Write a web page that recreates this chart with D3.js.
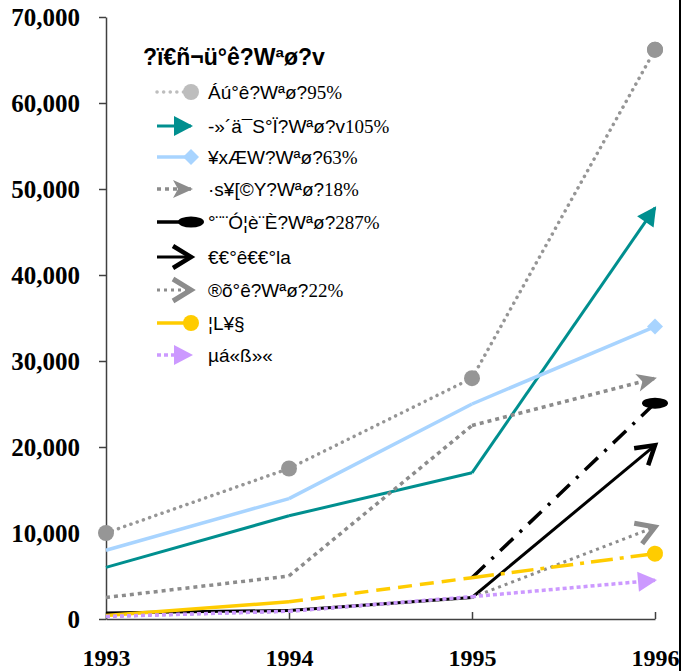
<!DOCTYPE html>
<html>
<head>
<meta charset="utf-8">
<script src="https://cdn.jsdelivr.net/npm/d3@7"></script>
<style>
  body { margin: 0; background: #fff; }
  svg { display: block; }
  .axis text { font-family: "Liberation Serif", "Times New Roman", serif; font-weight: bold; fill: #000; }
  .axis path, .axis line { stroke: #404040; stroke-width: 1.5; }
  .leg-title { font-family: "Liberation Sans", Arial, sans-serif; font-weight: bold; font-size: 23px; }
  .leg-text { font-family: "Liberation Sans", Arial, sans-serif; font-size: 19px; }
  .leg-num { font-family: "Liberation Serif", "Times New Roman", serif; }
</style>
</head>
<body>
<svg id="chart"></svg>
<script>
// categories + tick labels
const years = ['1993', '1994', '1995', '1996'];
const yTicks = [0, 10000, 20000, 30000, 40000, 50000, 60000, 70000];

const legendTitle = '?ï€ñ¬ü°ê?Wªø?v';
const names = [
  'Áú°ê?Wªø?95%',
  '-»´ä¯S°Ï?Wªø?v105%',
  '¥xÆW?Wªø?63%',
  '·s¥[©Y?Wªø?18%',
  '°¨¨Ó¦è¨È?Wªø?287%',
  '€€°ê€€°la',
  '®õ°ê?Wªø?22%',
  '¦L¥§',
  'µá«ß»«'
];

// series values (null = not drawn)
const s1 = [10000, 17500, 28000, 66200];
const s2 = [6000, 12000, 17000, 47800];
const s3 = [8000, 14000, 25000, 34000];
const s4 = [2500, 5000, 22500, 28000];
const s5 = [null, null, 4800, 25100];
const s6 = [700, 1000, 2500, 20200];
const s7 = [300, 900, 2500, 10700];
const s8 = [400, 2000, 4800, 7600];
const s9 = [300, 900, 2600, 4500];

const seriesVals = [s1, s2, s3, s4, s5, s6, s7, s8, s9];

// style per series: colour, dash for each segment, end marker
const styles = [
  { color: '#969696', leg: '#bdbdbd', dash: ['0.1,6.5'], cap: 'round', w: 3.5, marker: 'circle' },
  { color: '#008f8f', dash: [null], w: 3, marker: 'tri' },
  { color: '#a8d4ff', dash: [null], w: 3.5, marker: 'diamond' },
  { color: '#8c8c8c', dash: ['4,4'], w: 3.5, marker: 'stealth' },
  { color: '#000000', dash: ['18,9,3,9'], legDash: 'none', w: 3.5, marker: 'oval' },
  { color: '#000000', dash: [null], w: 3, marker: 'open' },
  { color: '#8c8c8c', dash: ['3,4'], w: 3, marker: 'open2' },
  { color: '#ffcc00', dash: [null, '14,8', '22,7,4,7'], w: 3.5, marker: 'dot' },
  { color: '#cc99ff', dash: ['4,3'], w: 3.5, marker: 'tri2' }
];

const W = 687, H = 671;
const svg = d3.select('#chart').attr('width', W).attr('height', H);

const x = d3.scalePoint().domain(years).range([106, 655]);
const y = d3.scaleLinear().domain([0, 70000]).range([619, 17]);

// markers
const defs = svg.append('defs');
function mk(id, orient, draw) {
  const m = defs.append('marker')
    .attr('id', id)
    .attr('markerUnits', 'userSpaceOnUse')
    .attr('markerWidth', 1).attr('markerHeight', 1)
    .attr('refX', 0).attr('refY', 0)
    .attr('orient', orient)
    .style('overflow', 'visible');
  draw(m);
}
mk('m-circle', 'auto', m => m.append('circle').attr('r', 8).attr('fill', styles[0].color));
mk('m-circle-leg', 'auto', m => m.append('circle').attr('r', 8).attr('fill', styles[0].leg));
mk('m-tri', 'auto', m => m.append('path').attr('d', 'M2,0 L-17,-10 L-17,10 Z').attr('fill', styles[1].color));
mk('m-diamond', '0', m => m.append('path').attr('d', 'M0,-8 L8,0 L0,8 L-8,0 Z').attr('fill', styles[2].color));
mk('m-stealth', 'auto', m => m.append('path').attr('d', 'M2,0 L-18,-9 L-13,0 L-18,9 Z').attr('fill', styles[3].color));
mk('m-oval', '0', m => m.append('ellipse').attr('rx', 13).attr('ry', 5.5).attr('fill', '#000'));
mk('m-open', 'auto', m => m.append('path').attr('d', 'M-18,-11 L0,0 L-18,11')
  .attr('fill', 'none').attr('stroke', '#000').attr('stroke-width', 4.5));
mk('m-open2', 'auto', m => m.append('path').attr('d', 'M-18,-11 L0,0 L-18,11')
  .attr('fill', 'none').attr('stroke', '#8c8c8c').attr('stroke-width', 5));
mk('m-dot', 'auto', m => m.append('circle').attr('r', 8).attr('fill', styles[7].color));
mk('m-tri2', 'auto', m => m.append('path').attr('d', 'M2,0 L-17,-10 L-17,10 Z').attr('fill', styles[8].color));

const clip = defs.append('clipPath').attr('id', 'frame');
clip.append('rect').attr('x', 0).attr('y', 0).attr('width', 679).attr('height', H);

const chart = svg.append('g').attr('clip-path', 'url(#frame)');

// axes
const yAxis = d3.axisLeft(y)
  .tickValues(yTicks)
  .tickSize(7)
  .tickSizeOuter(0)
  .tickPadding(19)
  .tickFormat(d3.format(','));
chart.append('g')
  .attr('class', 'axis y-axis')
  .attr('transform', `translate(${x('1993')},0)`)
  .call(yAxis)
  .selectAll('text').style('font-size', '25px');

const xAxis = d3.axisBottom(x)
  .tickSizeInner(-7)
  .tickSizeOuter(0)
  .tickPadding(30);
chart.append('g')
  .attr('class', 'axis x-axis')
  .attr('transform', `translate(0,${y(0)})`)
  .call(xAxis)
  .selectAll('text').style('font-size', '24px');

// series lines, drawn segment by segment so each segment can carry its own dash
const line = d3.line()
  .defined(d => d.v != null)
  .x(d => x(d.year))
  .y(d => y(d.v));

const lines = chart.append('g');
seriesVals.forEach((vals, i) => {
  const st = styles[i];
  const pts = years.map((yr, j) => ({ year: yr, v: vals[j] }));
  const g = lines.append('g');
  for (let j = 0; j < pts.length - 1; j++) {
    if (pts[j].v == null || pts[j + 1].v == null) continue;
    const dash = st.dash[Math.min(j, st.dash.length - 1)];
    const p = g.append('path')
      .datum([pts[j], pts[j + 1]])
      .attr('d', line)
      .attr('fill', 'none')
      .attr('stroke', st.color)
      .attr('stroke-width', st.w)
      .attr('stroke-linecap', st.cap || 'butt');
    if (dash) p.attr('stroke-dasharray', dash);
    if (j === pts.length - 2) p.attr('marker-end', `url(#m-${st.marker})`);
  }
  // series 1 has a circle on every point
  if (st.marker === 'circle') {
    g.selectAll('circle.pt')
      .data(pts)
      .join('circle')
      .attr('class', 'pt')
      .attr('cx', d => x(d.year))
      .attr('cy', d => y(d.v))
      .attr('r', 8)
      .attr('fill', st.color);
  }
});

// legend
const legend = svg.append('g');
legend.append('text')
  .attr('class', 'leg-title')
  .attr('x', 143).attr('y', 65)
  .text(legendTitle);

const legY = [92, 126, 157, 189, 222, 257, 290, 323, 355];
names.forEach((n, i) => {
  const st = styles[i];
  const col = st.leg || st.color;
  const ly = legY[i];
  const l = legend.append('line')
    .attr('x1', 157).attr('x2', 191)
    .attr('y1', ly).attr('y2', ly)
    .attr('stroke', col)
    .attr('stroke-width', st.w)
    .attr('stroke-linecap', st.cap || 'butt')
    .attr('marker-end', `url(#m-${st.marker === 'circle' ? 'circle-leg' : st.marker})`);
  const ld = st.legDash || st.dash[0];
  if (ld && ld !== 'none') l.attr('stroke-dasharray', ld);

  const m = n.match(/^(.*?)(\d+%)$/);
  const t = legend.append('text')
    .attr('class', 'leg-text')
    .attr('x', 208).attr('y', ly + 7);
  if (m) {
    t.append('tspan').text(m[1]);
    t.append('tspan').attr('class', 'leg-num').text(m[2]);
  } else {
    t.text(n);
  }
});

// right frame edge
svg.append('line')
  .attr('x1', 680).attr('x2', 680)
  .attr('y1', 0).attr('y2', H)
  .attr('stroke', '#000').attr('stroke-width', 2);
</script>
</body>
</html>
